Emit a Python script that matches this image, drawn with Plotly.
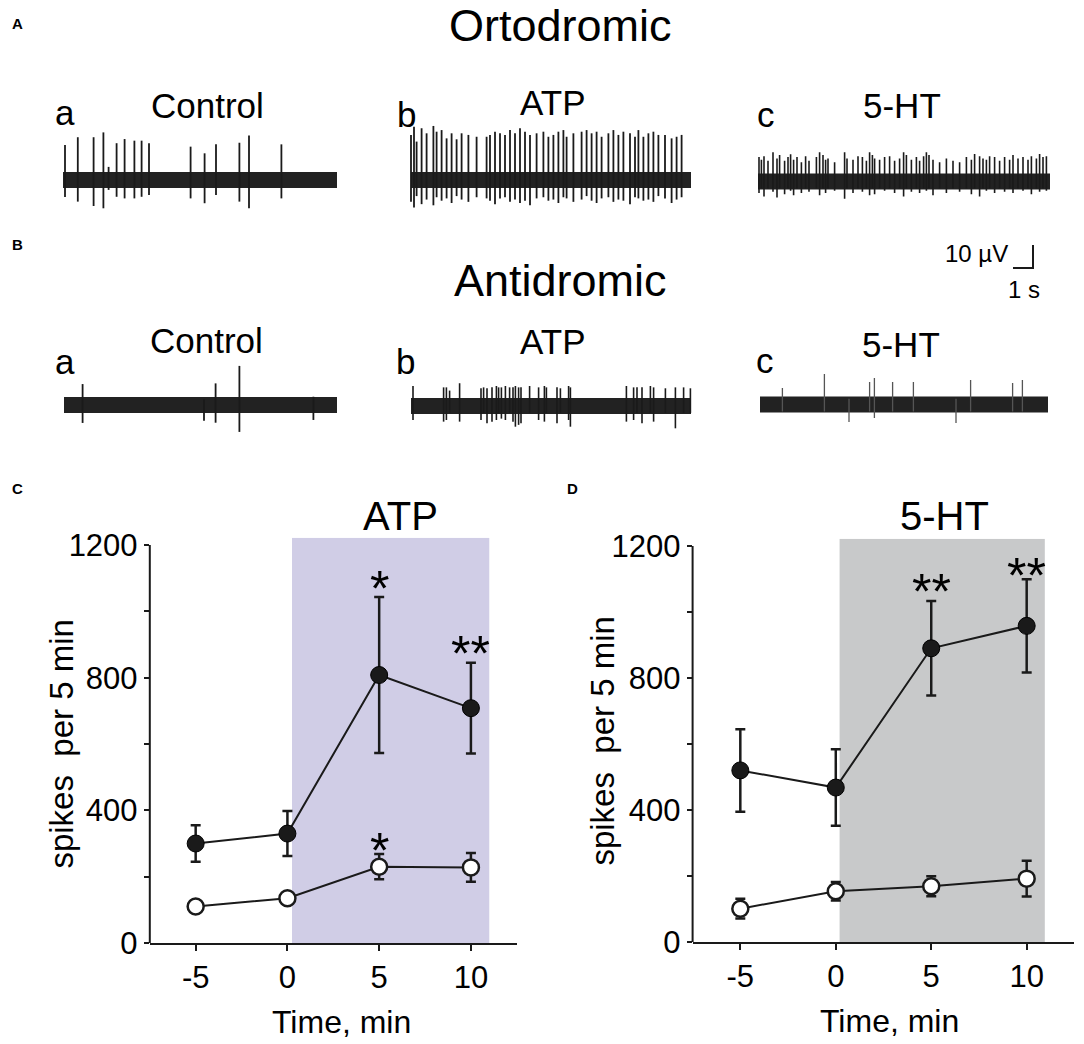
import plotly.graph_objects as go

W, H = 1084, 1044
FONT = "Liberation Sans, Arial, sans-serif"
INK = "#1a1a1a"

# -------------------------------------------------------
# Extracellular recordings: spike times (s), up / down deflections (µV)
# -------------------------------------------------------
ortho_ctrl_t = [0.10, 0.74, 1.53, 2.02, 2.28, 2.68, 3.08, 3.57, 3.93, 4.30,
                6.38, 7.08, 7.65, 8.82, 9.30, 10.92]
ortho_ctrl_up = [15.2, 18.6, 18.6, 20.7, 5.7, 16.0, 17.8, 17.1, 17.1, 16.0,
                 14.5, 11.6, 15.5, 16.2, 19.3, 15.5]
ortho_ctrl_dn = [7.4, 9.4, 11.3, 12.3, 4.3, 7.3, 8.0, 8.0, 7.3, 6.5,
                 8.0, 10.1, 6.5, 9.4, 12.3, 8.0]

ortho_atp_t = [0.00, 0.15, 0.28, 0.53, 0.78, 1.12, 1.28, 1.53, 1.78, 2.03,
               2.28, 2.53, 2.87, 3.28, 3.78, 3.95, 4.20, 4.45, 4.70, 4.95,
               5.20, 5.45, 5.70, 5.95, 6.28, 6.62, 6.87, 7.12, 7.37, 7.62,
               7.78, 8.12, 8.53, 8.78, 9.03, 9.28, 9.53, 9.87, 10.12, 10.37,
               10.62, 10.95, 11.20, 11.37, 11.62, 11.87, 12.12, 12.37, 12.70, 13.03,
               13.28, 13.53]
ortho_atp_up = [19.6, 23.2, 16.7, 22.5, 20.3, 23.5, 21.0, 21.7, 18.1, 20.3,
                17.7, 20.3, 19.6, 18.8, 18.8, 19.6, 21.0, 20.3, 19.6, 21.7,
                20.3, 22.5, 21.0, 19.6, 20.3, 21.0, 18.8, 19.6, 21.0, 21.7,
                18.8, 20.3, 21.0, 21.7, 20.3, 21.0, 18.8, 20.3, 21.7, 19.6,
                21.0, 20.3, 18.8, 21.7, 18.8, 20.3, 21.0, 19.6, 19.6, 18.1,
                18.8, 19.6]
ortho_atp_dn = [9.5, 12.0, 7.0, 10.5, 8.5, 11.0, 7.5, 9.0, 8.0, 10.0,
                7.0, 8.5, 9.5, 7.5, 8.0, 9.0, 10.5, 8.0, 7.5, 9.5,
                8.5, 10.0, 9.0, 11.0, 8.0, 7.5, 9.0, 8.5, 10.0, 7.5,
                8.0, 9.5, 8.5, 7.0, 9.0, 10.0, 8.0, 7.5, 9.5, 8.5,
                9.0, 10.5, 7.5, 8.0, 9.0, 8.5, 9.5, 7.0, 8.0, 10.0,
                8.5, 7.5]

ortho_ht_t = [0.05, 0.17, 0.30, 0.50, 0.75, 0.95, 1.08, 1.33, 1.50, 1.63,
              1.78, 1.95, 2.17, 2.38, 2.55, 2.92, 3.08, 3.25, 3.38, 3.50,
              3.83, 4.33, 4.45, 4.75, 5.00, 5.22, 5.42, 5.58, 5.72, 5.83,
              6.08, 6.33, 6.58, 6.83, 7.08, 7.28, 7.42, 7.67, 7.92, 8.08,
              8.28, 8.42, 8.55, 8.75, 9.08, 9.42, 9.75, 10.08, 10.42, 10.67,
              10.83, 11.08, 11.25, 11.42, 11.58, 11.83, 12.08, 12.33, 12.58, 12.75,
              13.00, 13.25, 13.50, 13.67, 13.92, 14.08, 14.25, 14.42]
ortho_ht_up = [10.6, 9.5, 11.0, 9.0, 12.7, 10.0, 11.5, 9.0, 10.6, 11.8,
               9.5, 10.6, 8.4, 11.0, 9.0, 10.6, 12.7, 11.5, 9.5, 10.0,
               8.4, 12.7, 10.0, 9.5, 11.0, 10.6, 9.0, 12.7, 11.5, 10.0,
               9.5, 10.6, 11.0, 9.0, 10.0, 12.7, 11.5, 9.5, 10.6, 9.0,
               11.0, 12.7, 11.5, 9.5, 8.4, 10.0, 9.0, 8.4, 10.6, 9.5,
               12.0, 11.0, 10.0, 9.5, 11.0, 10.6, 9.0, 10.6, 9.5, 11.5,
               10.0, 10.6, 9.5, 11.0, 10.0, 12.0, 10.6, 11.0]
ortho_ht_dn = [5.0, 3.0, 6.5, 3.0, 4.5, 7.0, 3.0, 5.5, 3.0, 4.0,
               6.0, 3.0, 5.0, 3.0, 4.5, 3.0, 6.0, 3.0, 5.0, 3.0,
               4.0, 7.5, 3.0, 5.0, 3.0, 4.5, 3.0, 6.0, 3.0, 5.5,
               3.0, 4.0, 3.0, 5.0, 3.0, 6.5, 3.0, 4.5, 3.0, 5.0,
               3.0, 4.0, 3.0, 6.0, 3.0, 5.0, 3.0, 4.5, 3.0, 5.5,
               3.0, 6.5, 3.0, 4.0, 3.0, 5.0, 3.0, 4.5, 3.0, 5.0,
               3.0, 4.0, 3.0, 5.5, 3.0, 4.5, 3.0, 4.0]

anti_ctrl_t = [0.93, 7.00, 7.58, 8.77, 12.47]
anti_ctrl_up = [9.1, 2.5, 9.4, 17.0, 3.6]
anti_ctrl_dn = [7.8, 6.8, 7.7, 11.7, 6.5]

anti_atp_t = [0.10, 1.63, 1.77, 1.93, 2.43, 3.50, 3.63, 3.80, 4.05, 4.27,
              4.38, 4.52, 4.72, 4.93, 5.10, 5.22, 5.38, 5.50, 5.93, 6.38,
              6.67, 6.77, 7.30, 7.47, 7.88, 7.97, 10.77, 11.13, 11.30, 11.55,
              11.97, 12.13, 12.72, 13.22, 13.63, 13.97]
anti_atp_up = [8.7, 8.1, 8.1, 6.7, 9.9, 7.7, 8.1, 7.7, 8.1, 8.7,
               8.1, 8.1, 8.7, 8.1, 8.1, 8.7, 8.1, 8.1, 8.7, 8.1,
               8.7, 8.1, 8.1, 7.7, 8.7, 8.1, 8.7, 8.1, 8.1, 8.1,
               8.7, 8.1, 7.7, 8.1, 8.1, 7.7]
anti_atp_dn = [6.1, 6.8, 6.1, 3.0, 6.8, 6.1, 3.0, 7.5, 6.8, 6.1,
               3.0, 5.5, 6.1, 3.0, 6.8, 9.0, 8.2, 7.5, 3.0, 6.1,
               6.8, 3.0, 7.5, 3.0, 6.1, 9.0, 6.8, 6.1, 3.0, 7.5,
               3.0, 6.8, 3.0, 9.7, 3.0, 3.0]

anti_ht_t = [1.12, 3.22, 4.45, 5.48, 5.72, 6.63, 7.67, 9.80, 10.53, 12.63, 13.12]
anti_ht_up = [7.2, 13.3, 2.5, 9.8, 11.5, 9.8, 9.8, 2.5, 10.7, 9.3, 10.7]
anti_ht_dn = [3.0, 3.0, 7.6, 3.0, 5.9, 3.0, 3.0, 8.0, 3.0, 3.0, 3.0]

scale_s = 1      # horizontal calibration, s
scale_uv = 10    # vertical calibration, µV

# -------------------------------------------------------
# Spike counts per 5 min (mean ± SEM)
# -------------------------------------------------------
time_min = [-5, 0, 5, 10]
time_labels = ["-5", "0", "5", "10"]
atp_ortho = [300, 330, 808, 708]
atp_ortho_sem = [55, 68, 235, 137]
atp_anti = [110, 135, 230, 228]
atp_anti_sem = [18, 18, 38, 43]
ht_ortho = [520, 468, 890, 958]
ht_ortho_sem = [125, 116, 143, 141]
ht_anti = [101, 154, 169, 192]
ht_anti_sem = [30, 28, 30, 54]

atp_stars_x = [5, 10, 5]
atp_stars_y = [1109, 913, 320]
atp_stars = ["*", "**", "*"]
ht_stars_x = [5, 10]
ht_stars_y = [1102, 1152]
ht_stars = ["**", "**"]

y_ticks = [0, 200, 400, 600, 800, 1000, 1200]
y_ticktext = ["0", "", "400", "", "800", "", "1200"]
y_top = 1222
atp_window = [0.25, 11.0]
ht_window = [0.2, 10.95]


# -------------------------------------------------------
# helpers
# -------------------------------------------------------
def fx(px):
    return px / W


def fy(py):
    return 1 - py / H


def spike_xy(t, up, dn):
    xs, ys = [], []
    for ti, u, d in zip(t, up, dn):
        xs += [ti, ti, None]
        ys += [-d, u, None]
    return xs, ys


PX_PER_S = 20.0
PX_PER_UV = 2.3

fig = go.Figure()
layout = {}

# ========================================================
# Recording traces
# ========================================================
panels = [
    (1, 63, 180, 13.7, ortho_ctrl_t, ortho_ctrl_up, ortho_ctrl_dn, 1.8, INK),
    (2, 411, 180, 14.0, ortho_atp_t, ortho_atp_up, ortho_atp_dn, 1.8, INK),
    (3, 758, 181.5, 14.6, ortho_ht_t, ortho_ht_up, ortho_ht_dn, 1.6, INK),
    (4, 64, 405, 13.65, anti_ctrl_t, anti_ctrl_up, anti_ctrl_dn, 1.8, INK),
    (5, 411, 406, 14.0, anti_atp_t, anti_atp_up, anti_atp_dn, 1.6, INK),
    (6, 760, 404.5, 14.4, anti_ht_t, anti_ht_up, anti_ht_dn, 1.3, "#555555"),
]

for n, left, base, dur, t, up, dn, lw, col in panels:
    x0, x1 = left - 6, left + 306
    y0, y1 = base - 75, base + 45
    layout[f"xaxis{n}"] = dict(
        domain=[fx(x0), fx(x1)],
        range=[(x0 - left) / PX_PER_S, (x1 - left) / PX_PER_S],
        visible=False, anchor=f"y{n}", fixedrange=True,
    )
    layout[f"yaxis{n}"] = dict(
        domain=[fy(y1), fy(y0)],
        range=[(base - y1) / PX_PER_UV, (base - y0) / PX_PER_UV],
        visible=False, anchor=f"x{n}", fixedrange=True,
    )
    # noisy baseline band
    fig.add_trace(go.Scatter(
        x=[0, dur], y=[0, 0], mode="lines",
        line=dict(width=16, color="#222222"),
        xaxis=f"x{n}", yaxis=f"y{n}", hoverinfo="skip", showlegend=False,
    ))
    sx, sy = spike_xy(t, up, dn)
    fig.add_trace(go.Scatter(
        x=sx, y=sy, mode="lines", line=dict(width=lw, color=col),
        xaxis=f"x{n}", yaxis=f"y{n}", hoverinfo="skip", showlegend=False,
    ))

# scale bar
layout["xaxis9"] = dict(domain=[fx(1003), fx(1043)],
                        range=[-10 / PX_PER_S, 30 / PX_PER_S],
                        visible=False, anchor="y9")
layout["yaxis9"] = dict(domain=[fy(279), fy(235)],
                        range=[-11 / PX_PER_UV, 33 / PX_PER_UV],
                        visible=False, anchor="x9")
fig.add_trace(go.Scatter(
    x=[0, scale_s, scale_s], y=[0, 0, scale_uv], mode="lines",
    line=dict(width=2, color=INK), xaxis="x9", yaxis="y9",
    hoverinfo="skip", showlegend=False,
))

# ========================================================
# Spike count plots
# ========================================================
plots = [
    (7, 149.8, 516.8, 943, 545, atp_ortho, atp_ortho_sem, atp_anti, atp_anti_sem),
    (8, 692.6, 1074.4, 942, 546, ht_ortho, ht_ortho_sem, ht_anti, ht_anti_sem),
]

for n, left, right, bottom, top1200, yo, yo_e, ya, ya_e in plots:
    top = bottom - (bottom - top1200) * y_top / 1200
    layout[f"xaxis{n}"] = dict(
        domain=[fx(left), fx(right)], range=[-7.5, 12.5], anchor=f"y{n}",
        showline=True, linewidth=2, linecolor=INK, ticks="outside",
        ticklen=6, tickwidth=2, tickcolor=INK,
        tickvals=time_min, ticktext=time_labels,
        tickfont=dict(size=31, color="black", family=FONT),
        showgrid=False, zeroline=False, fixedrange=True, automargin=False,
    )
    layout[f"yaxis{n}"] = dict(
        domain=[fy(bottom), fy(top)], range=[0, y_top], anchor=f"x{n}",
        showline=False, ticks="outside", ticklen=5, tickwidth=2, tickcolor=INK,
        tickvals=y_ticks, ticktext=y_ticktext,
        tickfont=dict(size=31, color="black", family=FONT),
        showgrid=False, zeroline=False, fixedrange=True, automargin=False,
    )
    fig.add_trace(go.Scatter(
        x=time_min, y=yo, mode="lines+markers",
        error_y=dict(type="data", array=yo_e, thickness=2.5, width=5, color=INK),
        line=dict(width=2, color=INK),
        marker=dict(size=17, color=INK, line=dict(width=1, color="black")),
        xaxis=f"x{n}", yaxis=f"y{n}", showlegend=False,
    ))
    fig.add_trace(go.Scatter(
        x=time_min, y=ya, mode="lines+markers",
        error_y=dict(type="data", array=ya_e, thickness=2.5, width=5, color=INK),
        line=dict(width=2, color=INK),
        marker=dict(size=16, color="white", line=dict(width=2.5, color=INK)),
        xaxis=f"x{n}", yaxis=f"y{n}", showlegend=False,
    ))

shapes = [
    dict(type="rect", xref="x7", yref="y7", x0=atp_window[0], x1=atp_window[1],
         y0=0, y1=y_top, fillcolor="#d0cde6", line=dict(width=0), layer="below"),
    dict(type="rect", xref="x8", yref="y8", x0=ht_window[0], x1=ht_window[1],
         y0=0, y1=y_top, fillcolor="#c8c9ca", line=dict(width=0), layer="below"),
]
for n in (7, 8):
    shapes.append(dict(type="line", xref=f"x{n} domain", yref=f"y{n} domain",
                       x0=0, x1=0, y0=0, y1=1200 / y_top,
                       line=dict(width=2, color=INK)))

# ========================================================
# Text
# ========================================================
ann = []


def text(s, x, base, size, anchor="center", bold=False):
    ann.append(dict(
        text=f"<b>{s}</b>" if bold else s, x=fx(x), y=fy(base - 0.3465 * size),
        xref="paper", yref="paper", xanchor=anchor, yanchor="middle",
        showarrow=False, font=dict(size=size, color="black", family=FONT),
    ))


text("A", 17, 29, 15, bold=True)
text("B", 17, 250, 15, bold=True)
text("C", 17, 494, 15, bold=True)
text("D", 572, 494, 15, bold=True)

text("Ortodromic", 560, 41, 45)
text("Antidromic", 560, 296, 45)

text("a", 65, 125, 35)
text("Control", 207.5, 118, 35)
text("b", 406, 127, 35)
text("ATP", 552.5, 115, 35)
text("c", 766, 127, 35)
text("5-HT", 901.5, 118, 35)

text("a", 65, 374, 35)
text("Control", 206, 353, 35)
text("b", 405, 374, 35)
text("ATP", 552, 354, 35)
text("c", 765, 373, 35)
text("5-HT", 901, 356.5, 35)

text("10 µV", 1010, 262, 24, anchor="right")
text("1 s", 1042, 298, 24, anchor="right")

text("ATP", 400, 530, 40)
text("5-HT", 944, 530, 40)

text("Time, min", 341, 1033, 32)
text("Time, min", 889, 1032, 32)

for xc, yc in ((60.6, 744), (601.6, 741)):
    ann.append(dict(
        text="spikes\u00a0 per 5 min", x=fx(xc), y=fy(yc), xref="paper", yref="paper",
        xanchor="center", yanchor="middle", textangle=-90, showarrow=False,
        font=dict(size=33, color="black", family=FONT),
    ))

for n, sx, sy, st in ((7, atp_stars_x, atp_stars_y, atp_stars),
                      (8, ht_stars_x, ht_stars_y, ht_stars)):
    for xv, yv, s in zip(sx, sy, st):
        ann.append(dict(
            text=s, x=xv, y=yv, xref=f"x{n}", yref=f"y{n}",
            xanchor="center", yanchor="middle", yshift=-14, showarrow=False,
            font=dict(size=50, color="black", family=FONT),
        ))

fig.update_layout(
    width=W, height=H,
    margin=dict(l=0, r=0, t=0, b=0, pad=0, autoexpand=False),
    paper_bgcolor="white", plot_bgcolor="rgba(0,0,0,0)",
    shapes=shapes, annotations=ann, showlegend=False,
    font=dict(family=FONT, color="black"),
    **layout,
)

# page chrome: no body margin, no scrollbars
page_fix = (
    "document.documentElement.style.margin='0';"
    "document.documentElement.style.overflow='hidden';"
    "document.body.style.margin='0';"
    "document.body.style.overflow='hidden';"
)

fig.write_html("out.html", post_script=page_fix,
               config={"displayModeBar": False})
